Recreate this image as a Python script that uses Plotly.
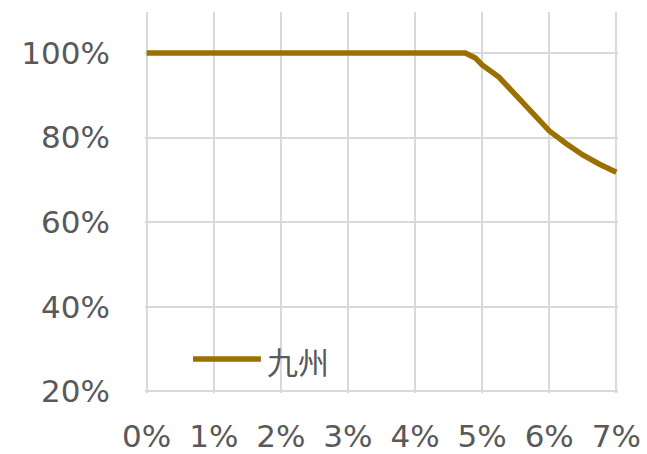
import plotly.graph_objects as go

# Share of output retained (%) against curtailment rate (%)
rate_pct = [0.0, 4.75, 4.9, 5.0, 5.25, 5.5, 5.75, 6.0, 6.25, 6.5, 6.75, 7.0]
retained_pct = [100.0, 100.0, 98.8, 97.2, 94.3, 90.0, 86.0, 81.6, 78.6, 75.9, 73.7, 71.8]
series_name = "九州"
x_ticks = [0, 1, 2, 3, 4, 5, 6, 7]
y_ticks = [20, 40, 60, 80, 100]

LINE_COLOR = "#9a7000"
GRID_COLOR = "#d9d9d9"
TEXT_COLOR = "#595959"
TICK_FONT = dict(family="DejaVu Sans", size=31, color=TEXT_COLOR)

fig = go.Figure()
fig.add_trace(go.Scatter(
    x=rate_pct, y=retained_pct, mode="lines", name=series_name,
    line=dict(color=LINE_COLOR, width=5.5), showlegend=False,
))

# Ranges padded slightly so the grid lines at 0%, 7% and 20% stay visible
fig.update_layout(
    width=647, height=454,
    margin=dict(l=145, r=29, t=12, b=61),
    paper_bgcolor="white", plot_bgcolor="white",
    xaxis=dict(
        range=[-0.025, 7.025], tickvals=x_ticks,
        ticktext=[f"{v}%" for v in x_ticks],
        showgrid=True, gridcolor=GRID_COLOR, gridwidth=2,
        zeroline=False, showline=False, ticks="", automargin=False,
        tickfont=TICK_FONT, ticklabelstandoff=22,
    ),
    yaxis=dict(
        range=[19.6, 109.7], tickvals=y_ticks,
        ticktext=[f"{v}%" for v in y_ticks],
        showgrid=True, gridcolor=GRID_COLOR, gridwidth=2,
        zeroline=False, showline=False, ticks="", automargin=False,
        tickfont=TICK_FONT, ticklabelstandoff=34,
    ),
)

# Legend panel: white box over the grid, line swatch and series label
fig.add_shape(type="rect", xref="paper", yref="paper",
              x0=-0.015, x1=0.4376, y0=0.0315, y1=0.152,
              fillcolor="white", line=dict(width=0), layer="between")
fig.add_shape(type="line", xref="paper", yref="paper",
              x0=0.1015, x1=0.245, y0=0.0892, y1=0.0892,
              line=dict(color=LINE_COLOR, width=5.5), layer="above")
fig.add_annotation(xref="paper", yref="paper", x=0.2537, y=0.085,
                   xanchor="left", yanchor="middle", showarrow=False,
                   text=series_name,
                   font=dict(family="Noto Sans CJK JP", size=31, color=TEXT_COLOR))

fig.write_html("out.html")
